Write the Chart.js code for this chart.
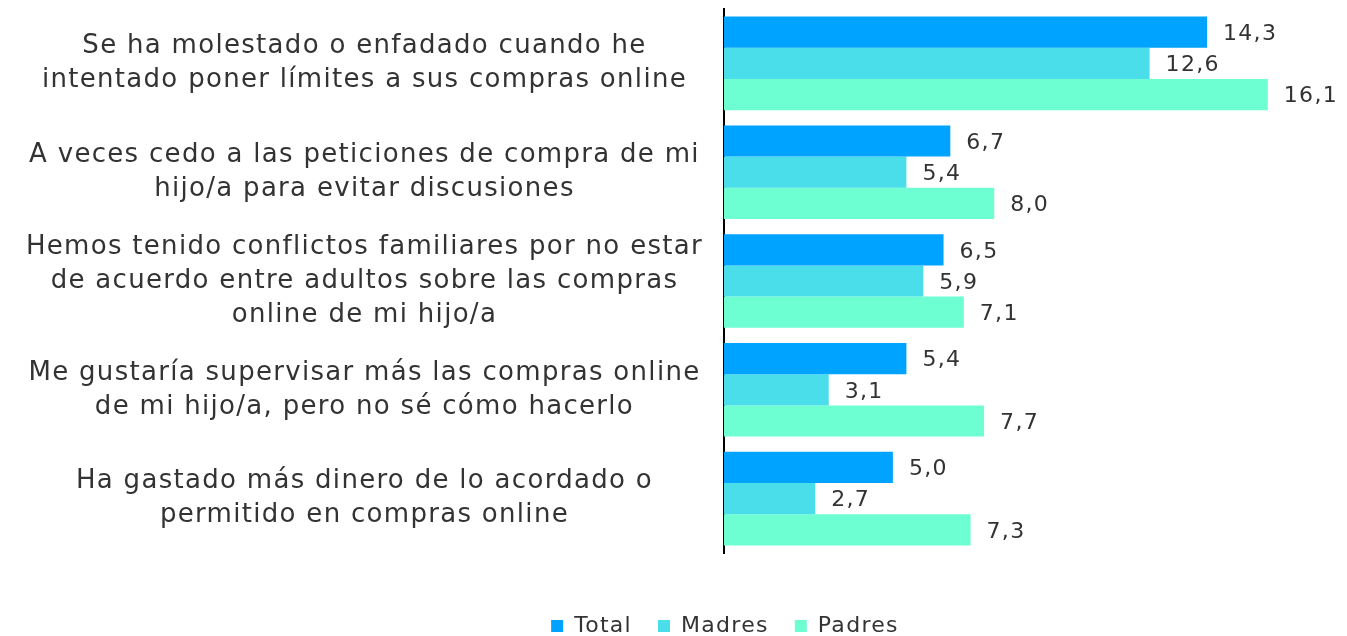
<!DOCTYPE html>
<html>
<head>
<meta charset="utf-8">
<script src="https://cdn.jsdelivr.net/npm/chart.js@4/dist/chart.umd.min.js"></script>
<style>
html,body{margin:0;padding:0;background:#fff;}
#wrap{width:1347px;height:636px;position:relative;}
</style>
</head>
<body>
<div id="wrap"><canvas id="c" width="1347" height="636"></canvas></div>
<script>
const categories = [
  ["Se ha molestado o enfadado cuando he", "intentado poner límites a sus compras online"],
  ["A veces cedo a las peticiones de compra de mi", "hijo/a para evitar discusiones"],
  ["Hemos tenido conflictos familiares por no estar", "de acuerdo entre adultos sobre las compras", "online de mi hijo/a"],
  ["Me gustaría supervisar más las compras online", "de mi hijo/a, pero no sé cómo hacerlo"],
  ["Ha gastado más dinero de lo acordado o", "permitido en compras online"]
];
const seriesNames = ["Total", "Madres", "Padres"];
const totalValues = [14.3, 6.7, 6.5, 5.4, 5.0];
const madresValues = [12.6, 5.4, 5.9, 3.1, 2.7];
const padresValues = [16.1, 8.0, 7.1, 7.7, 7.3];
const seriesColors = ["#00A3FF", "#49DEEA", "#6DFFD1"];

const FONT = "'DejaVu Sans', 'Liberation Sans', sans-serif";
const TEXT = "#333333";
const SPACING = '1.3px';

const spacingPlugin = {
  id: 'spacing',
  beforeUpdate(chart) { chart.ctx.letterSpacing = SPACING; },
  beforeLayout(chart) { chart.ctx.letterSpacing = SPACING; },
  afterLayout(chart) {
    // let the category labels extend to the canvas edge (no clipping)
    chart.scales.y.left = 0;
  },
  beforeDraw(chart) { chart.ctx.letterSpacing = SPACING; }
};

const valueLabels = {
  id: 'valueLabels',
  afterDatasetsDraw(chart) {
    const ctx = chart.ctx;
    ctx.save();
    ctx.letterSpacing = SPACING;
    ctx.font = "22px " + FONT;
    ctx.fillStyle = TEXT;
    ctx.textAlign = 'left';
    ctx.textBaseline = 'middle';
    chart.data.datasets.forEach((ds, i) => {
      const meta = chart.getDatasetMeta(i);
      meta.data.forEach((el, j) => {
        const v = ds.data[j];
        ctx.fillText(v.toFixed(1).replace('.', ','), el.x + 16, el.y + 2);
      });
    });
    ctx.restore();
  }
};

new Chart(document.getElementById('c'), {
  type: 'bar',
  data: {
    labels: categories,
    datasets: [
      { label: seriesNames[0], data: totalValues, backgroundColor: seriesColors[0] },
      { label: seriesNames[1], data: madresValues, backgroundColor: seriesColors[1] },
      { label: seriesNames[2], data: padresValues, backgroundColor: seriesColors[2] }
    ]
  },
  options: {
    indexAxis: 'y',
    responsive: false,
    animation: false,
    layout: { padding: { top: 9, right: 15, left: 118, bottom: -11 } },
    datasets: { bar: { barPercentage: 1.0, categoryPercentage: 0.86, borderWidth: 0 } },
    scales: {
      x: {
        min: 0, max: 18,
        grid: { display: false, drawTicks: false },
        border: { display: false },
        ticks: { display: false },
        afterFit(scale) { scale.height = 36; }
      },
      y: {
        grid: { display: false, drawTicks: false },
        border: { display: true, color: '#000000', width: 2 },
        ticks: {
          autoSkip: false,
          crossAlign: 'center',
          padding: 21,
          color: TEXT,
          font: { family: FONT, size: 26, lineHeight: 1.31 }
        },
        afterFit(scale) {
          scale.width = 724 - 118;
          scale.paddingTop = 0;
          scale.paddingBottom = 0;
        }
      }
    },
    plugins: {
      legend: {
        position: 'bottom',
        labels: {
          boxWidth: 12,
          boxHeight: 12,
          padding: 26,
          color: TEXT,
          font: { family: FONT, size: 22 }
        }
      },
      tooltip: { enabled: false }
    }
  },
  plugins: [spacingPlugin, valueLabels]
});
</script>
</body>
</html>
